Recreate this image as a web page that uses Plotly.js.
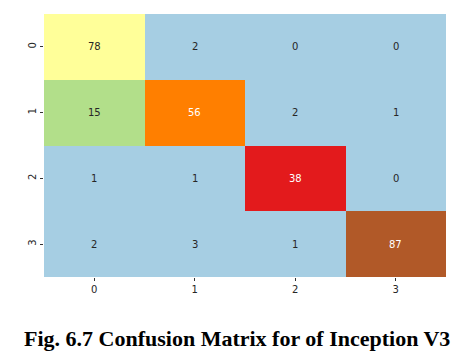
<!DOCTYPE html>
<html>
<head>
<meta charset="utf-8">
<script src="https://cdn.plot.ly/plotly-3.0.1.min.js"></script>
<style>html,body{margin:0;padding:0;background:#fff;}#chart{width:462px;height:357px;}</style>
</head>
<body>
<div id="chart"></div>
<script>
const xLabels = ['0', '1', '2', '3'];
const yLabels = ['0', '1', '2', '3'];
const matrix = [
  [78, 2, 0, 0],
  [15, 56, 2, 1],
  [1, 1, 38, 0],
  [2, 3, 1, 87]
];
const pairedColors = ['#a6cee3','#1f78b4','#b2df8a','#33a02c','#fb9a99','#e31a1c','#fdbf6f','#ff7f00','#cab2d6','#6a3d9a','#ffff99','#b15928'];
const titleText = 'Fig. 6.7 Confusion Matrix for of Inception V3';

const zmin = 0, zmax = 87;
const colorscale = [];
pairedColors.forEach((c, i) => {
  colorscale.push([i / 12, c]);
  colorscale.push([(i + 1) / 12, c]);
});

function cellColor(v) {
  let idx = Math.floor((v - zmin) / (zmax - zmin) * 12);
  if (idx > 11) idx = 11;
  if (idx < 0) idx = 0;
  return pairedColors[idx];
}
function lum(hex) {
  const r = parseInt(hex.slice(1,3),16)/255, g = parseInt(hex.slice(3,5),16)/255, b = parseInt(hex.slice(5,7),16)/255;
  const f = c => c <= 0.03928 ? c/12.92 : Math.pow((c+0.055)/1.055, 2.4);
  return 0.2126*f(r) + 0.7152*f(g) + 0.0722*f(b);
}

const annotations = [];
matrix.forEach((row, i) => {
  row.forEach((v, j) => {
    const col = cellColor(v);
    annotations.push({
      x: xLabels[j], y: yLabels[i], xref: 'x', yref: 'y',
      text: String(v), showarrow: false,
      font: {family: 'DejaVu Sans', size: 10, color: lum(col) > 0.408 ? '#262626' : '#ffffff'}
    });
  });
});
annotations.push({
  text: '<b>' + titleText + '</b>', showarrow: false,
  xref: 'paper', yref: 'paper', x: 0.481, y: -0.232, xanchor: 'center', yanchor: 'middle',
  font: {family: 'Liberation Serif', size: 22, color: '#000'}
});

Plotly.newPlot('chart', [{
  type: 'heatmap',
  x: xLabels, y: yLabels, z: matrix,
  zmin: zmin, zmax: zmax,
  colorscale: colorscale,
  showscale: false,
  hoverinfo: 'none'
}], {
  width: 462, height: 357,
  margin: {l: 44, r: 16, t: 14, b: 80},
  paper_bgcolor: '#fff', plot_bgcolor: '#fff',
  xaxis: {type: 'category', ticks: 'outside', ticklen: 3, tickcolor: '#333', showgrid: false, zeroline: false,
          tickfont: {family: 'DejaVu Sans', size: 10, color: '#262626'}},
  yaxis: {type: 'category', autorange: 'reversed', ticks: 'outside', ticklen: 3, tickcolor: '#333', showgrid: false, zeroline: false,
          tickangle: -90, tickfont: {family: 'DejaVu Sans', size: 10, color: '#262626'}},
  annotations: annotations
}, {displayModeBar: false, staticPlot: true});
</script>
</body>
</html>
